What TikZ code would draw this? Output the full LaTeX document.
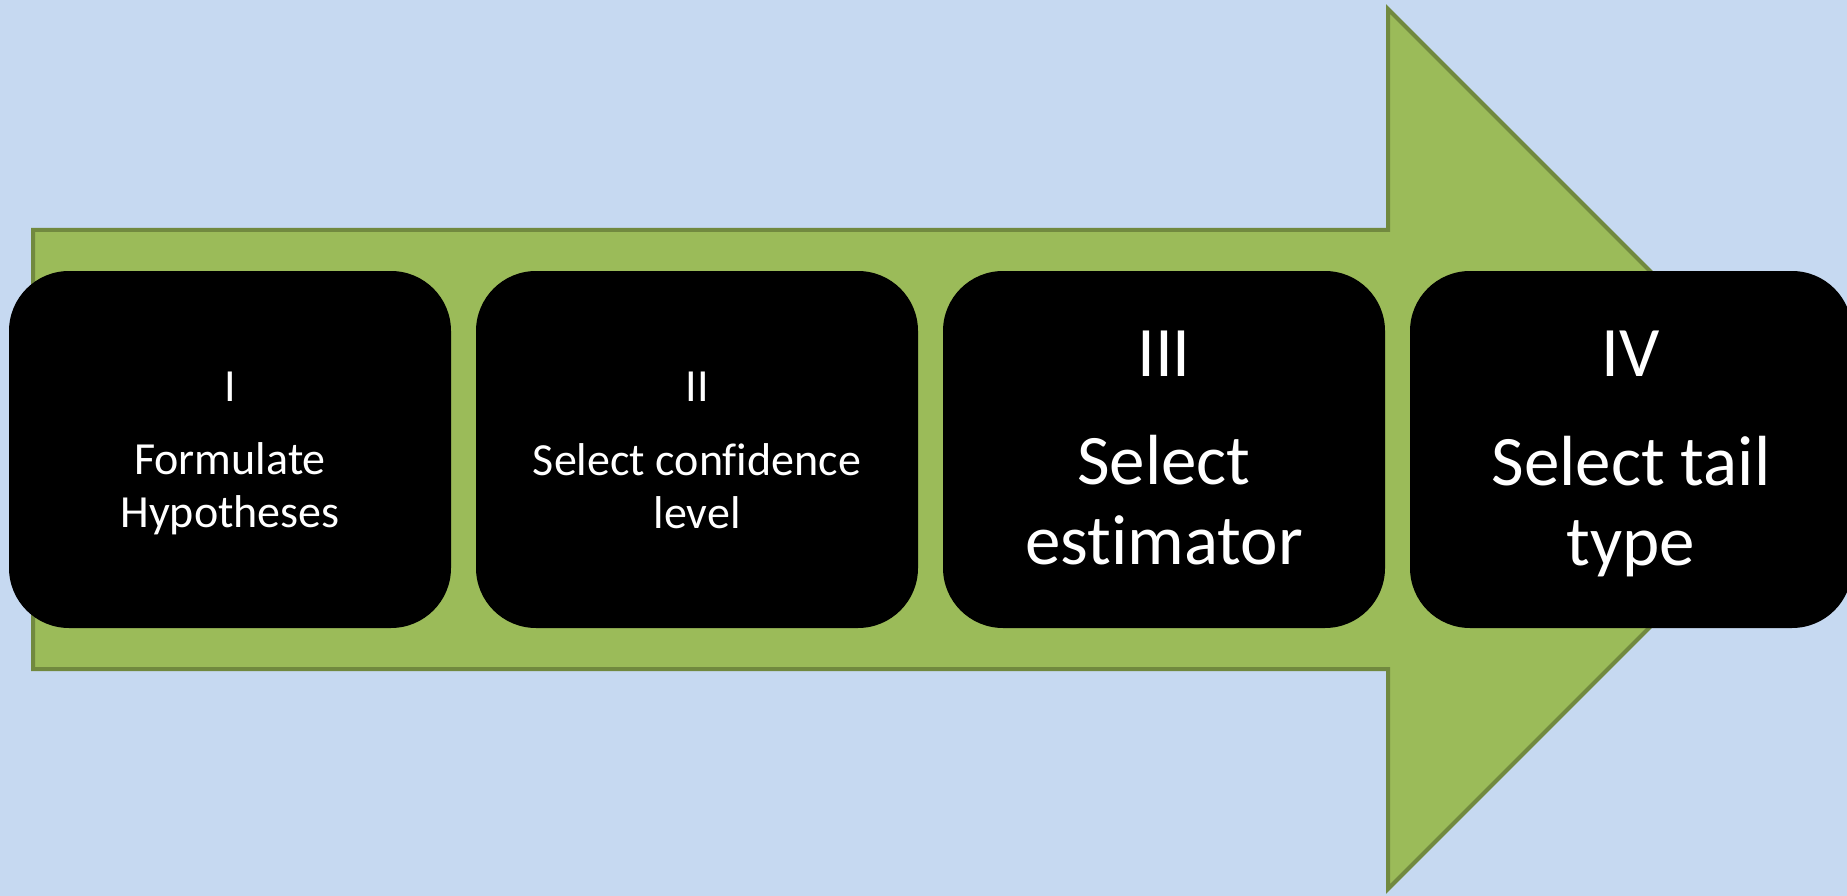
\documentclass[tikz,border=0pt]{standalone}
\usepackage{fontspec}
\setmainfont{Carlito}[Ligatures={NoCommon,NoContextual}]
\definecolor{bgblue}{HTML}{C6D9F1}
\definecolor{arrowgreen}{HTML}{9BBB59}
\definecolor{arrowline}{HTML}{71893F}
\begin{document}
\begin{tikzpicture}[x=1pt,y=-1pt,
  stepbox/.style={fill=black,draw=none,rounded corners=60pt,minimum width=442pt,minimum height=357pt,inner sep=0pt},
  smalltxt/.style={text=white,anchor=base,inner sep=0pt,font=\fontsize{46}{53}\selectfont},
  bigtxt/.style={text=white,anchor=base,inner sep=0pt,font=\fontsize{71}{80}\selectfont}]
\useasboundingbox (0,0) rectangle (1847,896);
\fill[bgblue] (0,0) rectangle (1847,896);
\begin{scope}
\clip (0,0) rectangle (1847,896);
\draw[fill=arrowgreen,draw=arrowline,line width=4pt,line join=miter]
  (33,230) -- (1388,230) -- (1388,9) -- (1828,449) -- (1388,889) -- (1388,669) -- (33,669) -- cycle;
\node[stepbox] (b1) at (230,449.5) {};
\node[stepbox] (b2) at (697,449.5) {};
\node[stepbox] (b3) at (1164,449.5) {};
\node[stepbox] (b4) at (1631,449.5) {};
\end{scope}
\node[smalltxt] (n1) at (230,401) {I};
\node[smalltxt] (t1a) at (230,474) {Formulate};
\node[smalltxt] (t1b) at (230,527) {Hypotheses};
\node[smalltxt] (n2) at (697,401) {II};
\node[smalltxt] (t2a) at (697,475) {Select confidence};
\node[smalltxt] (t2b) at (697,528) {level};
\node[bigtxt] (n3) at (1164,376) {III};
\node[bigtxt] (t3a) at (1164,484) {Select};
\node[bigtxt] (t3b) at (1164,564) {estimator};
\node[bigtxt] (n4) at (1631,376) {IV};
\node[bigtxt] (t4a) at (1631,485) {Select tail};
\node[bigtxt] (t4b) at (1631,565) {type};
\end{tikzpicture}
\end{document}
